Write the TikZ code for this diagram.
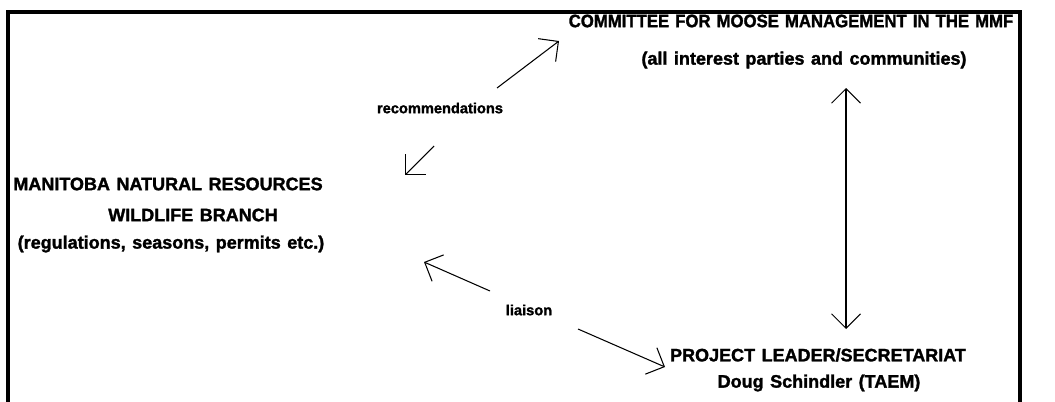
\documentclass[tikz,border=0pt]{standalone}
\usepackage{fontspec}
\setmainfont{Liberation Sans}[WordSpace=1.3,BoldFeatures={FakeBold=1.6}]
\newfontfamily\narrowsans{Liberation Sans}[WordSpace=1.3,FakeStretch=0.93,BoldFeatures={FakeBold=1.6}]
\usetikzlibrary{arrows.meta}

\begin{document}
\begin{tikzpicture}[x=0.025cm,y=-0.025cm,
		big/.style={font=\fontsize{12.8}{15}\selectfont\bfseries,inner sep=0pt},
		head/.style={font=\narrowsans\fontsize{12.8}{15}\selectfont\bfseries,inner sep=0pt},
		small/.style={font=\fontsize{10.4}{12}\selectfont\bfseries,inner sep=0pt},
		arr/.style={line width=0.75pt,-{Straight Barb[angle=90:14.5pt]}},
		darr/.style={line width=0.75pt,{Straight Barb[angle=90:14.5pt]}-{Straight Barb[angle=90:14.5pt]}}]
		\useasboundingbox (0,0) rectangle (1055,402);
		\draw[line width=2.2pt] (8,402) -- (8,12) -- (1020,12) -- (1020,402);
		
		\node[head](c1)at(791,21) {COMMITTEE FOR MOOSE MANAGEMENT IN THE MMF};
		\node[big](c2)at(804,60) {(all interest parties and communities)};
		\node[big](m1)at(168,184) {MANITOBA NATURAL RESOURCES};
		\node[big](m2)at(193,215) {WILDLIFE BRANCH};
		\node[big](m3)at(171,244) {(regulations, seasons, permits etc.)};
		\node[big](p1)at(818,355) {PROJECT LEADER/SECRETARIAT};
		\node[big](p2)at(819,383) {Doug Schindler (TAEM)};
		\node[small](rec)at(440,108) {recommendations};
		\node[small](lia)at(529,310) {liaison};
		
		\coordinate (r1) at (497,88);
		\coordinate (r2) at (559,41);
		\coordinate (r3) at (434,146);
		\coordinate (r4) at (405,175);
		\coordinate (l1) at (490,291);
		\coordinate (l2) at (424,262);
		\coordinate (l3) at (578,329);
		\coordinate (l4) at (665,367);
		\coordinate (v1) at (846,88);
		\coordinate (v2) at (846,329);
		
		\draw[arr](r1) -- (r2);
		\draw[arr](r3) -- (r4);
		\draw[arr](l1) -- (l2);
		\draw[arr](l3) -- (l4);
		\draw[darr](v1) -- (v2);
	\end{tikzpicture}
\end{document}
